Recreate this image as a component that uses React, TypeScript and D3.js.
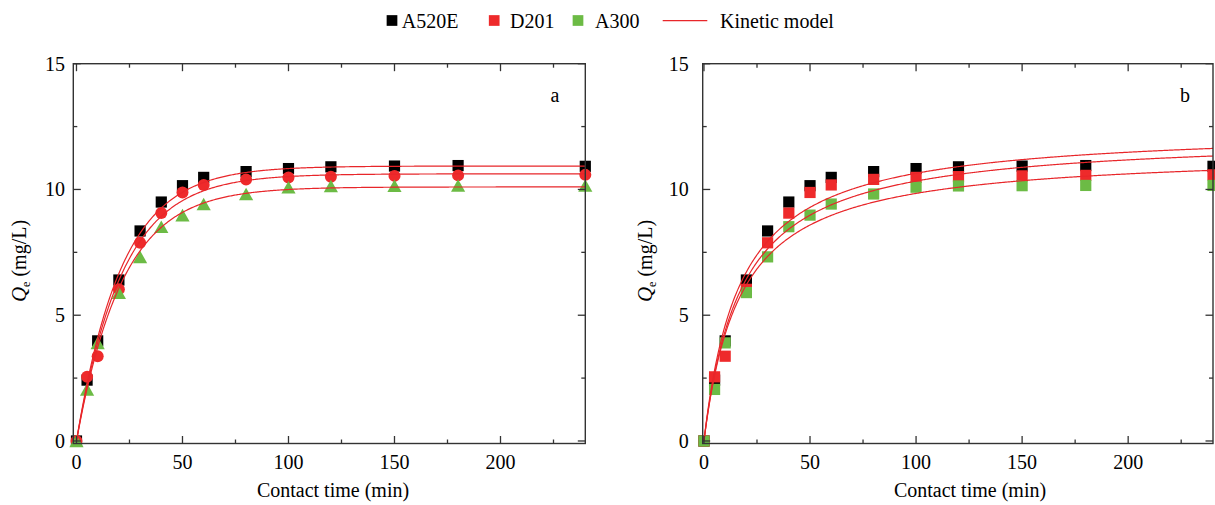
import React from "react";
import * as d3 from "d3";

// Sampling times (min)
const times = [0, 5, 10, 20, 30, 40, 50, 60, 80, 100, 120, 150, 180, 240];

// Measured adsorption capacity Qe (mg/L) for each resin
const a520e = [0, 2.42, 3.98, 6.4, 8.35, 9.5, 10.15, 10.48, 10.71, 10.83, 10.9, 10.93, 10.95, 10.92];
const d201 = [0, 2.55, 3.37, 6.03, 7.88, 9.06, 9.88, 10.18, 10.4, 10.48, 10.51, 10.54, 10.56, 10.58];
const a300 = [0, 2.05, 3.9, 5.9, 7.32, 8.52, 8.98, 9.42, 9.82, 10.09, 10.14, 10.15, 10.16, 10.16];

const seriesNames = ["A520E", "D201", "A300"];
const seriesColors = ["#000000", "#ee2a2b", "#6cbb45"];
const modelColor = "#e8262a";

// Fitted kinetic parameters: pseudo-first-order (panel a)
const pfoQe = [10.93, 10.62, 10.1];
const pfoK = [0.047, 0.046, 0.046];
// Fitted kinetic parameters: pseudo-second-order (panel b)
const psoQe = [12.46, 12.17, 11.53];
const psoK = [0.0047, 0.00462, 0.00506];

const xMajorTicks = [0, 50, 100, 150, 200];
const xMinorTicks = [25, 75, 125, 175, 225];
const yMajorTicks = [0, 5, 10, 15];
const yMinorTicks = [2.5, 7.5, 12.5];

const FONT = "'Liberation Serif', 'Times New Roman', serif";
const AXIS = "#333333";

const seriesValues = [a520e, d201, a300];

type Shape = "square" | "circle" | "triangle";

function Marker({ shape, x, y, color }: { shape: Shape; x: number; y: number; color: string }) {
  if (shape === "circle") return <circle cx={x} cy={y} r={6} fill={color} />;
  if (shape === "triangle") {
    const w = 14.2, h = 12.6;
    return <path d={`M${x},${y - h / 2}L${x + w / 2},${y + h / 2}L${x - w / 2},${y + h / 2}Z`} fill={color} />;
  }
  const s = 11.2;
  return <rect x={x - s / 2} y={y - s / 2} width={s} height={s} fill={color} />;
}

interface PanelProps {
  left: number;
  right: number;
  xMin: number;
  shapes: Shape[];
  model: (i: number, t: number) => number;
  label: string;
  labelX: number;
  yTitleX: number;
  xTitleX: number;
  yLabelGap: number;
}

function Panel(p: PanelProps) {
  const top = 63.7;
  const bottom = 443.5;
  const x = d3.scaleLinear().domain([p.xMin, 240]).range([p.left, p.right]);
  const y = d3.scaleLinear().domain([-0.1, 15]).range([bottom, top]);
  const tSamples = d3.range(0, 240.001, 0.5);

  const majorLen = 7.5;
  const minorLen = 4;

  return (
    <g>
      {/* markers */}
      {seriesValues.map((vals, si) =>
        vals.map((v, i) => (
          <Marker key={`${si}-${i}`} shape={p.shapes[si]} x={x(times[i])} y={y(v)} color={seriesColors[si]} />
        ))
      )}
      {/* kinetic model curves */}
      {seriesValues.map((_, si) => {
        const gen = d3
          .line<number>()
          .x((t) => x(t))
          .y((t) => y(p.model(si, t)));
        return <path key={`m${si}`} d={gen(tSamples) || ""} fill="none" stroke={modelColor} strokeWidth={1.2} />;
      })}
      {/* frame */}
      <rect x={p.left} y={top} width={p.right - p.left} height={bottom - top} fill="none" stroke={AXIS} strokeWidth={1.4} />
      {/* x ticks (bottom and top, pointing inward) */}
      {xMajorTicks.map((t) => (
        <g key={`xt${t}`}>
          <line x1={x(t)} x2={x(t)} y1={bottom} y2={bottom - majorLen} stroke={AXIS} strokeWidth={1.3} />
          <line x1={x(t)} x2={x(t)} y1={top} y2={top + majorLen} stroke={AXIS} strokeWidth={1.3} />
          <text x={x(t)} y={468.5} textAnchor="middle" fontFamily={FONT} fontSize={20} fill="#000">
            {t}
          </text>
        </g>
      ))}
      {xMinorTicks.map((t) => (
        <g key={`xm${t}`}>
          <line x1={x(t)} x2={x(t)} y1={bottom} y2={bottom - minorLen} stroke={AXIS} strokeWidth={1.3} />
          <line x1={x(t)} x2={x(t)} y1={top} y2={top + minorLen} stroke={AXIS} strokeWidth={1.3} />
        </g>
      ))}
      {/* y ticks (left and right, pointing inward) */}
      {yMajorTicks.map((v) => (
        <g key={`yt${v}`}>
          <line x1={p.left} x2={p.left + majorLen} y1={y(v)} y2={y(v)} stroke={AXIS} strokeWidth={1.3} />
          <line x1={p.right} x2={p.right - majorLen} y1={y(v)} y2={y(v)} stroke={AXIS} strokeWidth={1.3} />
          <text x={p.left - p.yLabelGap} y={y(v) + 7} textAnchor="end" fontFamily={FONT} fontSize={20} fill="#000">
            {v}
          </text>
        </g>
      ))}
      {yMinorTicks.map((v) => (
        <g key={`ym${v}`}>
          <line x1={p.left} x2={p.left + minorLen} y1={y(v)} y2={y(v)} stroke={AXIS} strokeWidth={1.3} />
          <line x1={p.right} x2={p.right - minorLen} y1={y(v)} y2={y(v)} stroke={AXIS} strokeWidth={1.3} />
        </g>
      ))}
      {/* panel label */}
      <text x={p.labelX} y={102} textAnchor="middle" fontFamily={FONT} fontSize={20} fill="#000">
        {p.label}
      </text>
      {/* axis titles */}
      <text x={p.xTitleX} y={497} textAnchor="middle" fontFamily={FONT} fontSize={20} fill="#000">
        Contact time (min)
      </text>
      <text
        transform={`translate(${p.yTitleX},261) rotate(-90)`}
        textAnchor="middle"
        fontFamily={FONT}
        fontSize={20}
        fill="#000"
      >
        <tspan fontStyle="italic" fontSize={21}>Q</tspan>
        <tspan fontSize={12} dy={4}>e</tspan>
        <tspan dy={-4}> (mg/L)</tspan>
      </text>
    </g>
  );
}

function Legend() {
  const items = [
    { sx: 392, tx: 401.7 },
    { sx: 494.2, tx: 510 },
    { sx: 578, tx: 595 },
  ];
  const s = 10.7;
  return (
    <g>
      {items.map((it, i) => (
        <g key={seriesNames[i]}>
          <rect x={it.sx - s / 2} y={20.5 - s / 2} width={s} height={s} fill={seriesColors[i]} />
          <text x={it.tx} y={28} fontFamily={FONT} fontSize={20} fill="#000">
            {seriesNames[i]}
          </text>
        </g>
      ))}
      <line x1={662.7} x2={707.3} y1={20.7} y2={20.7} stroke={modelColor} strokeWidth={1.3} />
      <text x={720} y={28} fontFamily={FONT} fontSize={20} fill="#000">
        Kinetic model
      </text>
    </g>
  );
}

const pfo = (i: number, t: number) => pfoQe[i] * (1 - Math.exp(-pfoK[i] * t));
const pso = (i: number, t: number) => {
  const a = psoK[i] * psoQe[i];
  return (psoQe[i] * a * t) / (1 + a * t);
};

export default function App() {
  return (
    <svg
      width={1215}
      height={505}
      viewBox="0 0 1215 505"
      style={{ position: "absolute", left: 0, top: 0, background: "#fff" }}
    >
      <rect width={1215} height={505} fill="#fff" />
      <Legend />
      <Panel
        left={73.3}
        right={585.3}
        xMin={-1.5}
        shapes={["square", "circle", "triangle"]}
        model={pfo}
        label="a"
        labelX={555}
        yTitleX={26.3}
        xTitleX={333}
        yLabelGap={8.3}
      />
      <Panel
        left={702.7}
        right={1213}
        xMin={-0.6}
        shapes={["square", "square", "square"]}
        model={pso}
        label="b"
        labelX={1185}
        yTitleX={652}
        xTitleX={970}
        yLabelGap={14}
      />
    </svg>
  );
}
